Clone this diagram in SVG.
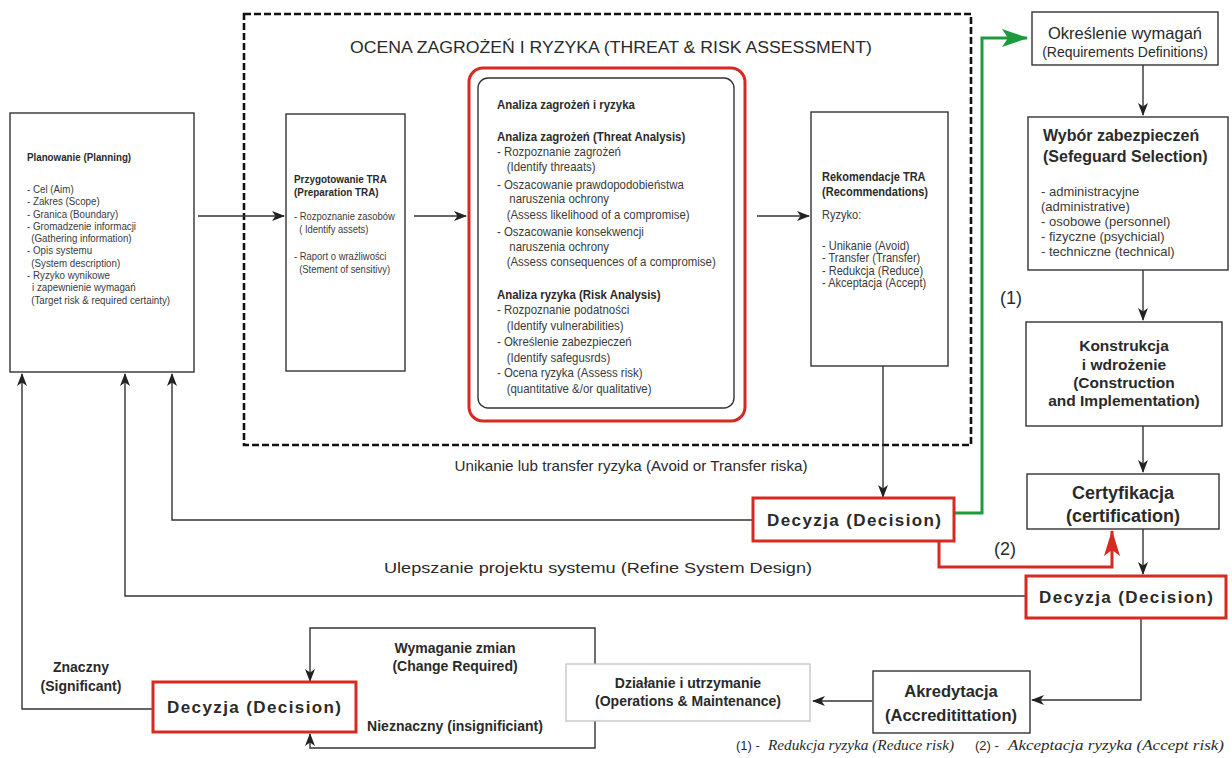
<svg xmlns="http://www.w3.org/2000/svg" width="1232" height="758" viewBox="0 0 1232 758">
<defs>
<style>
text{font-family:"Liberation Sans",Arial,sans-serif;fill:#2a2a2a}
.b{font-weight:bold}
.box{fill:#fff;stroke:#333;stroke-width:1.4}
.rbox{fill:#fff;stroke:#d42a22;stroke-width:3}
.ln{fill:none;stroke:#333;stroke-width:1.4}
.s11{font-size:11.5px}
.s10{font-size:11px}
.s13{font-size:13px}
.s12{font-size:12px}
.dec{font-size:17px;font-weight:bold;text-anchor:middle}
.c{text-anchor:middle}
.g{fill:#3a3a3a}
</style>
<marker id="ab" markerWidth="13" markerHeight="10" refX="12" refY="5" orient="auto" markerUnits="userSpaceOnUse"><path d="M0,0 L13,5 L0,10 L3.5,5 z" fill="#222"/></marker>
<marker id="ag" markerWidth="26" markerHeight="18" refX="25" refY="9" orient="auto" markerUnits="userSpaceOnUse"><path d="M0,0 L26,9 L0,18 L6,9 z" fill="#1c9a3c"/></marker>
<marker id="ar" markerWidth="26" markerHeight="16" refX="25" refY="8" orient="auto" markerUnits="userSpaceOnUse"><path d="M0,0 L26,8 L0,16 L6,8 z" fill="#d42a22"/></marker>
</defs>
<rect width="1232" height="758" fill="#fff"/>

<g id="tra-frame">
<rect x="244" y="14" width="727" height="431" fill="none" stroke="#111" stroke-width="2.6" stroke-dasharray="7,3"/>
<text x="350" y="53" font-size="16" textLength="522" lengthAdjust="spacingAndGlyphs">OCENA ZAGROŻEŃ I RYZYKA (THREAT &amp; RISK ASSESSMENT)</text>
</g>

<g id="connectors">
<path class="ln" d="M198,216 H284" marker-end="url(#ab)"/>
<path class="ln" d="M414,216 H466" marker-end="url(#ab)"/>
<path class="ln" d="M757,216 H809" marker-end="url(#ab)"/>
<path class="ln" d="M883,366 V497" marker-end="url(#ab)"/>
<path class="ln" d="M753,520 H172 V374" marker-end="url(#ab)"/>
<path d="M954,513 H982 V38 H1027" fill="none" stroke="#1c9a3c" stroke-width="3" marker-end="url(#ag)"/>
<path class="ln" d="M1143,65 V115" marker-end="url(#ab)"/>
<path class="ln" d="M1143,270 V320" marker-end="url(#ab)"/>
<path class="ln" d="M1143,426 V472" marker-end="url(#ab)"/>
<path class="ln" d="M1143,529 V574" marker-end="url(#ab)"/>
<path d="M939,541 V567 H1112 V531" fill="none" stroke="#d42a22" stroke-width="3" marker-end="url(#ar)"/>
<path class="ln" d="M1026,596 H125 V374" marker-end="url(#ab)"/>
<path class="ln" d="M1141,618 V700 H1032" marker-end="url(#ab)"/>
<path class="ln" d="M872,701 H813" marker-end="url(#ab)"/>
<path class="ln" d="M595,700 V628 H310 V681" marker-end="url(#ab)"/>
<path class="ln" d="M595,700 V748 H310 V734" marker-end="url(#ab)"/>
<path class="ln" d="M153,709 H22 V374" marker-end="url(#ab)"/>
<text x="631" y="471" font-size="14.5" class="c" textLength="353" lengthAdjust="spacingAndGlyphs">Unikanie lub transfer ryzyka (Avoid or Transfer riska)</text>
<text x="598" y="573" font-size="14.5" class="c" textLength="428" lengthAdjust="spacingAndGlyphs">Ulepszanie projektu systemu (Refine System Design)</text>
<text x="1011" y="304" font-size="18" class="c">(1)</text>
<text x="1005" y="555" font-size="18" class="c">(2)</text>
<text x="81" y="672" font-size="14" class="b c">Znaczny</text>
<text x="81" y="691" font-size="14" class="b c">(Significant)</text>
<text x="455" y="653" font-size="14" class="b c">Wymaganie zmian</text>
<text x="455" y="671" font-size="14" class="b c">(Change Required)</text>
<text x="455" y="731" font-size="14" class="b c">Nieznaczny (insignificiant)</text>
</g>

<g id="planning">
<rect class="box" x="10" y="113" width="184" height="259"/>
<g transform="translate(27,0) scale(0.85,1)" class="s11">
<text x="0" y="161" class="b">Planowanie (Planning)</text>
<text x="0" y="193" class="g">- Cel (Aim)</text>
<text x="0" y="205.3" class="g">- Zakres (Scope)</text>
<text x="0" y="217.6" class="g">- Granica (Boundary)</text>
<text x="0" y="229.9" class="g">- Gromadzenie informacji</text>
<text x="5" y="242.2" class="g">(Gathering information)</text>
<text x="0" y="254.5" class="g">- Opis systemu</text>
<text x="5" y="266.8" class="g">(System description)</text>
<text x="0" y="279.1" class="g">- Ryzyko wynikowe</text>
<text x="6" y="291.4" class="g">i zapewnienie wymagań</text>
<text x="5" y="303.7" class="g">(Target risk &amp; required certainty)</text>
</g>
</g>

<g id="preparation">
<rect class="box" x="286" y="114" width="119" height="257"/>
<g transform="translate(294,0) scale(0.86,1)">
<text x="0" y="183" font-size="11.5" class="b">Przygotowanie TRA</text>
<text x="0" y="196" font-size="11.5" class="b">(Preparation TRA)</text>
<text x="0" y="220" class="s10 g">- Rozpoznanie zasobów</text>
<text x="6" y="233" class="s10 g">( Identify assets)</text>
<text x="0" y="260" class="s10 g">- Raport o wrażliwości</text>
<text x="6" y="273" class="s10 g">(Stement of sensitivy)</text>
</g>
</g>

<g id="analysis">
<rect class="rbox" x="469" y="68" width="276" height="353" rx="14"/>
<rect x="478" y="78" width="256" height="330" rx="10" fill="#fff" stroke="#333" stroke-width="1.4"/>
<g transform="translate(497,0) scale(0.88,1)" class="s13">
<text x="0" y="109.5" class="b">Analiza zagrożeń i ryzyka</text>
<text x="0" y="141.5" class="b">Analiza zagrożeń (Threat Analysis)</text>
<text x="0" y="156.5" class="g">- Rozpoznanie zagrożeń</text>
<text x="11" y="171.5" class="g">(Identify threaats)</text>
<text x="0" y="189.5" class="g">- Oszacowanie prawdopodobieństwa</text>
<text x="14" y="203.5" class="g">naruszenia ochrony</text>
<text x="11" y="219.5" class="g">(Assess likelihood of a compromise)</text>
<text x="0" y="236.5" class="g">- Oszacowanie konsekwencji</text>
<text x="14" y="251.5" class="g">naruszenia ochrony</text>
<text x="11" y="266.5" class="g">(Assess consequences of a compromise)</text>
<text x="0" y="299.5" class="b">Analiza ryzyka (Risk Analysis)</text>
<text x="0" y="314.5" class="g">- Rozpoznanie podatności</text>
<text x="11" y="330.5" class="g">(Identify vulnerabilities)</text>
<text x="0" y="346.5" class="g">- Określenie zabezpieczeń</text>
<text x="11" y="362.5" class="g">(Identify safegusrds)</text>
<text x="0" y="377.5" class="g">- Ocena ryzyka (Assess risk)</text>
<text x="11" y="393.5" class="g">(quantitative &amp;/or qualitative)</text>
</g>
</g>

<g id="recommendations">
<rect class="box" x="811" y="112" width="137" height="254"/>
<g transform="translate(822,0) scale(0.92,1)" class="s12">
<text x="0" y="181" class="b">Rekomendacje TRA</text>
<text x="0" y="196" class="b">(Recommendations)</text>
<text x="0" y="219" class="g">Ryzyko:</text>
<text x="0" y="250" class="g">- Unikanie (Avoid)</text>
<text x="0" y="262.5" class="g">- Transfer (Transfer)</text>
<text x="0" y="275" class="g">- Redukcja (Reduce)</text>
<text x="0" y="287.5" class="g">- Akceptacja (Accept)</text>
</g>
</g>

<g id="decision-mid">
<rect class="rbox" x="753" y="498" width="201" height="43"/>
<text x="854" y="526" class="dec" textLength="174" lengthAdjust="spacing">Decyzja (Decision)</text>
</g>

<g id="requirements">
<rect class="box" x="1032" y="12" width="186" height="53"/>
<text x="1125" y="39" font-size="16.5" class="c">Określenie wymagań</text>
<text x="1125" y="57" font-size="14" class="c">(Requirements Definitions)</text>
</g>

<g id="safeguards">
<rect class="box" x="1028" y="117" width="200" height="153"/>
<text x="1043" y="141" font-size="16" class="b">Wybór zabezpieczeń</text>
<text x="1043" y="162" font-size="16" class="b">(Sefeguard Selection)</text>
<text x="1041" y="196" font-size="13" class="g">- administracyjne</text>
<text x="1041" y="211" font-size="13" class="g">(administrative)</text>
<text x="1041" y="226" font-size="13" class="g">- osobowe (personnel)</text>
<text x="1041" y="241" font-size="13" class="g">- fizyczne (psychicial)</text>
<text x="1041" y="256" font-size="13" class="g">- techniczne (technical)</text>
</g>

<g id="construction">
<rect class="box" x="1026" y="322" width="196" height="104"/>
<text x="1124" y="351" font-size="15.5" class="b c">Konstrukcja</text>
<text x="1124" y="370" font-size="15.5" class="b c">i wdrożenie</text>
<text x="1124" y="388" font-size="15.5" class="b c">(Construction</text>
<text x="1124" y="406" font-size="15.5" class="b c">and Implementation)</text>
</g>

<g id="certification">
<rect class="box" x="1027" y="474" width="192" height="55"/>
<text x="1123" y="499" font-size="18" class="b c">Certyfikacja</text>
<text x="1123" y="522" font-size="18" class="b c">(certification)</text>
</g>

<g id="decision-right">
<rect class="rbox" x="1026" y="576" width="200" height="42"/>
<text x="1126" y="603" class="dec" textLength="174" lengthAdjust="spacing">Decyzja (Decision)</text>
</g>

<g id="accreditation">
<rect class="box" x="873" y="671" width="157" height="62"/>
<text x="951" y="697" font-size="16.5" class="b c">Akredytacja</text>
<text x="951" y="721" font-size="16.5" class="b c">(Accreditittation)</text>
</g>

<g id="operations">
<rect x="566" y="664" width="244" height="57" fill="#fff" stroke="#bdbdbd" stroke-width="1.2"/>
<text x="688" y="688" font-size="14" class="b c">Działanie i utrzymanie</text>
<text x="688" y="706" font-size="14" class="b c">(Operations &amp; Maintenance)</text>
</g>

<g id="decision-left">
<rect class="rbox" x="153" y="682" width="203" height="50"/>
<text x="254" y="713" class="dec" textLength="174" lengthAdjust="spacing">Decyzja (Decision)</text>
</g>

<g id="legend">
<text y="750" font-size="13"><tspan x="736">(1) -</tspan><tspan x="768" font-family="Liberation Serif, serif" font-style="italic" font-size="15" textLength="186" lengthAdjust="spacingAndGlyphs">Redukcja ryzyka (Reduce risk)</tspan><tspan x="975">(2) -</tspan><tspan x="1008" font-family="Liberation Serif, serif" font-style="italic" font-size="15" textLength="216" lengthAdjust="spacingAndGlyphs">Akceptacja ryzyka (Accept risk)</tspan></text>
</g>
</svg>
